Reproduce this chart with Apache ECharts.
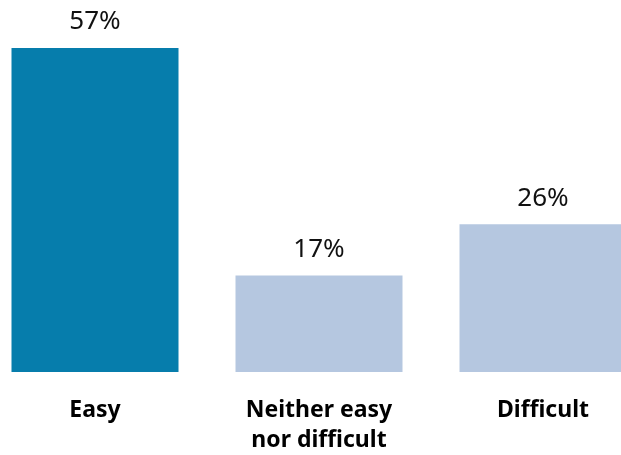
<!DOCTYPE html>
<html><head><meta charset="utf-8">
<script src="https://cdn.jsdelivr.net/npm/echarts@6/dist/echarts.min.js"></script>
<style>html,body{margin:0;padding:0;background:#fff;overflow:hidden}#c{width:672px;height:455px;margin-left:-17.5px}</style>
</head><body><div id="c"></div>
<script>
const categories = ['Easy', 'Neither easy\nnor difficult', 'Difficult'];
const values = [57, 17, 26];
const colors = ['#067dac', '#b5c7e0', '#b5c7e0'];

const chart = echarts.init(document.getElementById('c'), null, {renderer: 'canvas'});
chart.setOption({
  animation: false,
  grid: {left: 0, right: 0, top: 31, height: 341, containLabel: false},
  xAxis: {
    type: 'category', data: categories,
    axisLine: {show: false}, axisTick: {show: false},
    axisLabel: {interval: 0, margin: 23, fontFamily: 'Noto Sans', fontWeight: 'bold', fontSize: 23, color: '#000', lineHeight: 30}
  },
  yAxis: {type: 'value', min: 0, max: 60, show: false, splitLine: {show: false}},
  series: [{
    type: 'bar', barWidth: 167,
    data: values.map((v, i) => ({value: v, itemStyle: {color: colors[i]}})),
    label: {show: true, position: 'top', distance: 13, formatter: '{c}%', fontFamily: 'Noto Sans', fontSize: 26, color: '#111'}
  }]
});
</script></body></html>
